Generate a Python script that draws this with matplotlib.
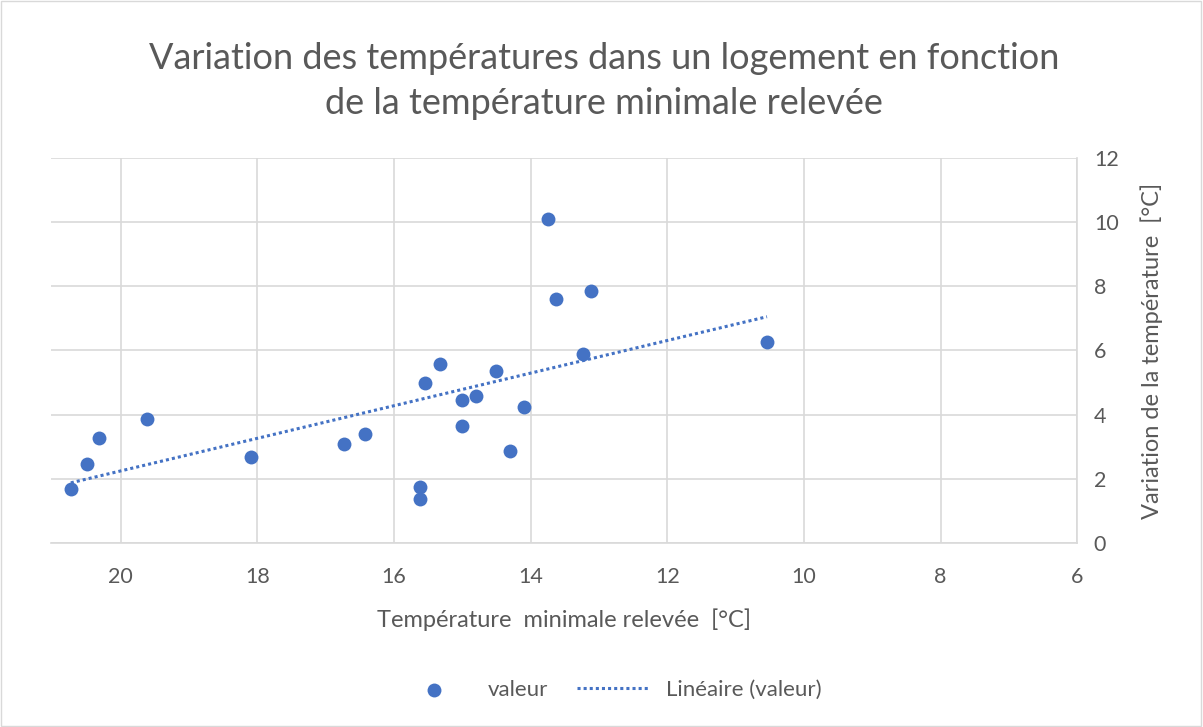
import numpy as np
import matplotlib
matplotlib.use("Agg")
import matplotlib.pyplot as plt
from matplotlib.patches import Rectangle

plt.rcParams['font.family'] = ['Lato', 'DejaVu Sans']

# Data
temp_min = [20.73, 20.50, 20.32, 19.61, 18.10, 16.73, 16.42, 15.62, 15.62, 15.54,
            15.32, 15.01, 15.01, 14.80, 14.50, 14.30, 14.10, 13.74, 13.63, 13.24,
            13.11, 10.54]
variation = [1.68, 2.46, 3.27, 3.86, 2.68, 3.08, 3.40, 1.74, 1.37, 4.98,
             5.58, 3.64, 4.45, 4.58, 5.36, 2.87, 4.24, 10.09, 7.60, 5.89,
             7.85, 6.26]
x_ticks = [20, 18, 16, 14, 12, 10, 8, 6]
y_ticks = [0, 2, 4, 6, 8, 10, 12]

title = "Variation des températures dans un logement en fonction\nde la température minimale relevée"
xlabel = "Température  minimale relevée  [°C]"
ylabel = "Variation de la température  [°C]"

blue = "#4472C4"
gray_text = "#595959"
grid_col = "#D9D9D9"

fig = plt.figure(figsize=(12.03, 7.27), dpi=100)
fig.patches.append(Rectangle((0.001, 0.001), 0.997, 0.997, transform=fig.transFigure,
                             fill=False, edgecolor="#D9D9D9", linewidth=1))
ax = fig.add_axes([0.0424, 0.2531, 0.853, 0.5296])

x = np.array(temp_min)
y = np.array(variation)
ax.scatter(x, y, s=100, color=blue, zorder=3, label="valeur", linewidths=0)

coef = np.polyfit(x, y, 1)
xf = np.array([x.max(), x.min()])
ax.plot(xf, np.polyval(coef, xf), linestyle=(0, (1, 1)), color=blue, linewidth=2.2,
        zorder=2, label="Linéaire (valeur)")

ax.set_xlim(21.02, 6)
ax.set_ylim(0, 12)
ax.set_xticks(x_ticks)
ax.set_yticks(y_ticks)
ax.grid(True, color=grid_col, linewidth=1.2)
ax.set_axisbelow(True)

ax.yaxis.tick_right()
ax.yaxis.set_label_position("right")
for s in ["top", "left"]:
    ax.spines[s].set_visible(False)
for s in ["bottom", "right"]:
    ax.spines[s].set_color(grid_col)
    ax.spines[s].set_linewidth(1.2)
ax.tick_params(length=0, labelsize=15.5, colors=gray_text)
ax.tick_params(axis='x', pad=17)
ax.tick_params(axis='y', pad=12)

ax.set_xlabel(xlabel, fontsize=17, color=gray_text, labelpad=16)
ax.set_ylabel(ylabel, fontsize=17, color=gray_text, labelpad=16)

fig.text(0.502, 0.942, title, ha="center", va="top", fontsize=26, color=gray_text,
         linespacing=1.45)

leg = fig.legend(loc="center", bbox_to_anchor=(0.507, 0.051), ncol=2, frameon=False,
                 fontsize=16, labelcolor=gray_text, handlelength=3.2, columnspacing=1.3)

fig.savefig("out.png", dpi=100)
